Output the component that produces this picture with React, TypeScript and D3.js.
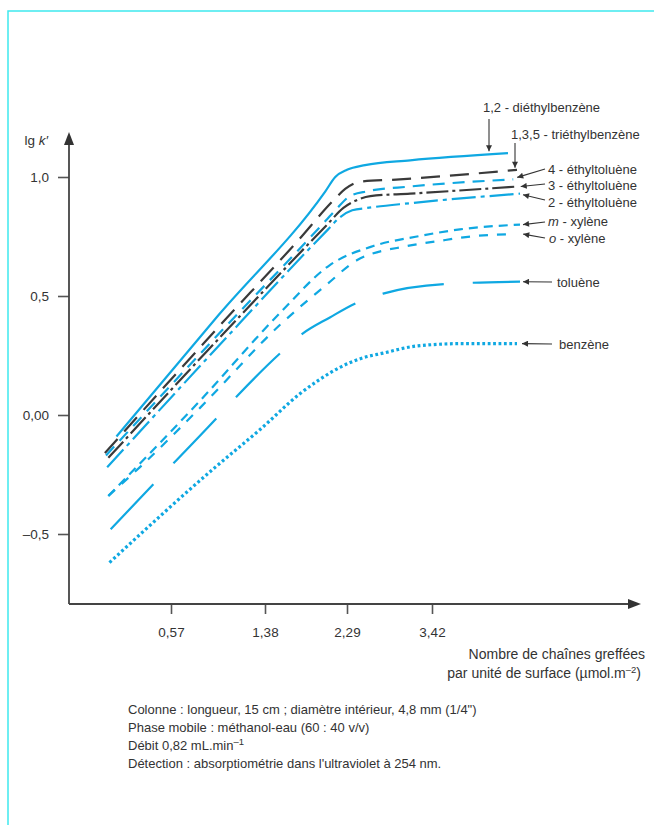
import { useRef, useEffect } from "react";
import * as d3 from "d3";

// axes
const xTicks = [0.57, 1.38, 2.29, 3.42];
const xTickLabels = ["0,57", "1,38", "2,29", "3,42"];
const yTicks = [-0.5, 0, 0.5, 1.0];
const yTickLabels = ["–0,5", "0,00", "0,5", "1,0"];

// x : chaînes greffées (µmol.m-2), y : lg k'
const diethylX = [0.1, 0.98, 2.05, 2.16, 2.29, 2.53, 3.13, 4.43];
const diethylY = [-0.09, 0.42, 0.94, 1.0, 1.03, 1.05, 1.07, 1.1];

const triethylX = [0.0, 0.98, 1.74, 2.16, 2.27, 2.46, 2.99, 4.55];
const triethylY = [-0.16, 0.37, 0.73, 0.91, 0.95, 0.98, 0.99, 1.03];

const ethyl4X = [0.01, 0.98, 1.99, 2.16, 2.33, 2.56, 3.13, 4.5];
const ethyl4Y = [-0.17, 0.34, 0.79, 0.86, 0.92, 0.94, 0.96, 0.99];

const ethyl3X = [0.03, 0.98, 2.07, 2.25, 2.4, 2.6, 3.13, 4.56];
const ethyl3Y = [-0.18, 0.32, 0.8, 0.87, 0.9, 0.92, 0.93, 0.96];

const ethyl2X = [0.02, 0.98, 2.08, 2.21, 2.36, 2.56, 3.13, 4.59];
const ethyl2Y = [-0.22, 0.29, 0.78, 0.83, 0.86, 0.87, 0.89, 0.93];

const mXylX = [0.03, 0.82, 1.55, 2.1, 2.64, 3.22, 3.79, 4.59];
const mXylY = [-0.34, 0.06, 0.43, 0.63, 0.71, 0.75, 0.78, 0.8];

const oXylX = [0.03, 0.3, 0.82, 1.55, 2.07, 2.42, 3.09, 3.49, 3.93, 4.46];
const oXylY = [-0.34, -0.22, 0.03, 0.38, 0.55, 0.65, 0.71, 0.73, 0.75, 0.76];

const tolX = [0.05, 0.42, 0.95, 1.14, 1.55, 1.79, 2.1, 2.41, 2.77, 3.59, 4.59];
const tolY = [-0.48, -0.29, -0.02, 0.08, 0.26, 0.34, 0.41, 0.47, 0.51, 0.55, 0.56];

const benzX = [0.04, 0.95, 1.34, 1.77, 1.99, 2.21, 2.5, 2.77, 3.22, 3.83, 4.55];
const benzY = [-0.62, -0.22, -0.06, 0.09, 0.15, 0.2, 0.24, 0.26, 0.29, 0.3, 0.3];

const captionLines = [
  "Colonne : longueur, 15 cm ; diamètre intérieur, 4,8 mm (1/4\")",
  "Phase mobile : méthanol-eau (60 : 40 v/v)",
  "Débit 0,82 mL.min",
  "Détection : absorptiométrie dans l'ultraviolet à 254 nm.",
];

const CYAN = "#0fa8e2";
const DARK = "#3a3a3a";
const INK = "#333";
const FONT = "'Liberation Sans', Arial, sans-serif";

type Serie = {
  xs: number[];
  ys: number[];
  color: string;
  dash: string | null;
  width: number;
  label: [string, boolean][];
  tx: number;
  ty: number;
  from: [number, number];
  vertical?: boolean;
  tip: [number, number];
};

const series: Serie[] = [
  { xs: diethylX, ys: diethylY, color: CYAN, dash: null, width: 2.2,
    label: [["1,2 - diéthylbenzène", false]], tx: 483, ty: 112, from: [489, 119], vertical: true, tip: [0, -2] },
  { xs: triethylX, ys: triethylY, color: DARK, dash: "19 10", width: 2.2,
    label: [["1,3,5 - triéthylbenzène", false]], tx: 511, ty: 139, from: [515, 143], vertical: true, tip: [0, -2] },
  { xs: ethyl4X, ys: ethyl4Y, color: CYAN, dash: "12 8", width: 2.2,
    label: [["4 - éthyltoluène", false]], tx: 548, ty: 174, from: [545, 169], tip: [4, -2] },
  { xs: ethyl3X, ys: ethyl3Y, color: DARK, dash: "22 4 3 4", width: 2.2,
    label: [["3 - éthyltoluène", false]], tx: 548, ty: 190, from: [545, 184], tip: [3, 0] },
  { xs: ethyl2X, ys: ethyl2Y, color: CYAN, dash: "24 5 4 5", width: 2.2,
    label: [["2 - éthyltoluène", false]], tx: 548, ty: 207, from: [545, 200], tip: [3, 1] },
  { xs: mXylX, ys: mXylY, color: CYAN, dash: "9 6", width: 2.2,
    label: [["m", true], [" - xylène", false]], tx: 548, ty: 226, from: [545, 222], tip: [3, 0] },
  { xs: oXylX, ys: oXylY, color: CYAN, dash: "9 9", width: 2.2,
    label: [["o", true], [" - xylène", false]], tx: 549, ty: 243, from: [545, 238], tip: [13, 0] },
  { xs: tolX, ys: tolY, color: CYAN, dash: "62 29", width: 2.2,
    label: [["toluène", false]], tx: 557, ty: 287, from: [552, 282], tip: [3, 0] },
  { xs: benzX, ys: benzY, color: CYAN, dash: "2.8 2.6", width: 3.2,
    label: [["benzène", false]], tx: 559, ty: 349, from: [552, 344], tip: [5, 0] },
];

export default function App() {
  const ref = useRef<SVGSVGElement | null>(null);

  useEffect(() => {
    const svg = d3.select(ref.current);
    svg.selectAll("*").remove();

    const x = d3.scaleLinear().domain(xTicks).range([171, 265, 347, 432]);
    const y = d3.scaleLinear().domain([-0.5, 1]).range([534, 177]);
    const x0 = 69;
    const y0 = 604;

    // cadre
    svg.append("path")
      .attr("d", "M8,825 L8,11 L654,11")
      .attr("fill", "none")
      .attr("stroke", "#3fe9ee")
      .attr("stroke-width", 1.5);

    const defs = svg.append("defs");
    defs.append("marker")
      .attr("id", "head")
      .attr("viewBox", "0 0 10 10")
      .attr("refX", 10)
      .attr("refY", 5)
      .attr("markerWidth", 7)
      .attr("markerHeight", 6)
      .attr("markerUnits", "userSpaceOnUse")
      .attr("orient", "auto")
      .append("path")
      .attr("d", "M0,0 L10,5 L0,10 Z")
      .attr("fill", INK);

    // axes
    const gy = svg.append("g")
      .attr("transform", `translate(${x0},0)`)
      .call(d3.axisLeft(y).tickValues(yTicks).tickFormat((_, i) => yTickLabels[i]).tickSize(11).tickPadding(9));
    const gx = svg.append("g")
      .attr("transform", `translate(0,${y0})`)
      .call(d3.axisBottom(x).tickValues(xTicks).tickFormat((_, i) => xTickLabels[i]).tickSize(10).tickPadding(13));
    [gy, gx].forEach((g) => {
      g.select(".domain").remove();
      g.attr("font-family", FONT).attr("font-size", 13.5);
      g.selectAll("line").attr("stroke", "#555").attr("stroke-width", 1.6);
      g.selectAll("text").attr("fill", INK);
    });

    svg.append("line")
      .attr("x1", x0).attr("y1", y0).attr("x2", x0).attr("y2", 142)
      .attr("stroke", "#444").attr("stroke-width", 1.8);
    svg.append("path")
      .attr("d", `M${x0},132 L${x0 - 5},145 L${x0 + 5},145 Z`)
      .attr("fill", "#333");
    svg.append("line")
      .attr("x1", x0).attr("y1", y0).attr("x2", 630).attr("y2", y0)
      .attr("stroke", "#444").attr("stroke-width", 1.8);
    svg.append("path")
      .attr("d", `M641,${y0} L628,${y0 - 5} L628,${y0 + 5} Z`)
      .attr("fill", "#333");

    // courbes
    const line = d3.line<[number, number]>()
      .x((d) => x(d[0]))
      .y((d) => y(d[1]))
      .curve(d3.curveMonotoneX);

    series.forEach((s) => {
      const pts = s.xs.map((v, i) => [v, s.ys[i]] as [number, number]);
      svg.append("path")
        .attr("d", line(pts))
        .attr("fill", "none")
        .attr("stroke", s.color)
        .attr("stroke-width", s.width)
        .attr("stroke-dasharray", s.dash)
        .attr("stroke-linecap", "butt");
    });

    // étiquettes
    const labels = svg.append("g").attr("font-family", FONT).attr("font-size", 13).attr("fill", INK);
    series.forEach((s) => {
      const t = labels.append("text").attr("x", s.tx).attr("y", s.ty);
      s.label.forEach(([str, it]) => {
        t.append("tspan").attr("font-style", it ? "italic" : "normal").text(str);
      });
      const lx = s.xs[s.xs.length - 1];
      const ly = s.ys[s.ys.length - 1];
      const tipX = s.vertical ? s.from[0] : x(lx) + s.tip[0];
      const tipY = y(ly) + s.tip[1];
      labels.append("line")
        .attr("x1", s.from[0]).attr("y1", s.from[1])
        .attr("x2", tipX).attr("y2", tipY)
        .attr("stroke", INK).attr("stroke-width", 1.1)
        .attr("marker-end", "url(#head)");
    });

    // titres d'axes
    const yl = svg.append("text")
      .attr("x", 48).attr("y", 145)
      .attr("text-anchor", "end")
      .attr("font-family", FONT).attr("font-size", 13.5).attr("fill", INK);
    yl.append("tspan").text("lg ");
    yl.append("tspan").attr("font-style", "italic").text("k′");

    const xt = svg.append("g").attr("font-family", FONT).attr("font-size", 14).attr("fill", INK).attr("text-anchor", "end");
    xt.append("text").attr("x", 645).attr("y", 659).text("Nombre de chaînes greffées");
    const xt2 = xt.append("text").attr("x", 641).attr("y", 678);
    xt2.append("tspan").text("par unité de surface (µmol.m");
    xt2.append("tspan").attr("font-size", 9.5).attr("dy", -5).text("–2");
    xt2.append("tspan").attr("dy", 5).text(")");

    // légende
    const cap = svg.append("g").attr("font-family", FONT).attr("font-size", 13).attr("fill", INK);
    captionLines.forEach((c, i) => {
      const t = cap.append("text").attr("x", 128).attr("y", 714 + i * 18);
      t.append("tspan").text(c);
      if (i === 2) t.append("tspan").attr("font-size", 9.5).attr("dy", -5).text("–1");
    });
  }, []);

  return (
    <svg
      ref={ref}
      width={654}
      height={825}
      style={{ position: "absolute", left: 0, top: 0, display: "block", background: "#fff" }}
    ></svg>
  );
}
